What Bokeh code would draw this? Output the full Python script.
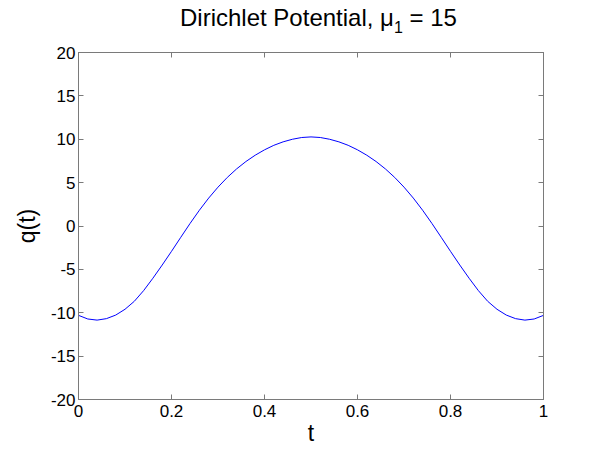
from bokeh.plotting import figure
from bokeh.models import LinearAxis, FixedTicker, Range1d, Div
from bokeh.layouts import column
from bokeh.embed import file_html
from bokeh.resources import INLINE

# ---- data ----
t = [0.00, 0.02, 0.04, 0.06, 0.08, 0.10, 0.12, 0.14, 0.16, 0.18,
     0.20, 0.22, 0.24, 0.26, 0.28, 0.30, 0.32, 0.34, 0.36, 0.38,
     0.40, 0.42, 0.44, 0.46, 0.48, 0.50, 0.52, 0.54, 0.56, 0.58,
     0.60, 0.62, 0.64, 0.66, 0.68, 0.70, 0.72, 0.74, 0.76, 0.78,
     0.80, 0.82, 0.84, 0.86, 0.88, 0.90, 0.92, 0.94, 0.96, 0.98, 1.00]
q = [-10.30, -10.72, -10.85, -10.68, -10.27, -9.60, -8.68, -7.45, -6.02, -4.50,
     -2.92, -1.30, 0.30, 1.82, 3.22, 4.48, 5.60, 6.58, 7.43, 8.16,
     8.78, 9.30, 9.70, 10.00, 10.20, 10.27, 10.20, 10.00, 9.70, 9.30,
     8.78, 8.16, 7.43, 6.58, 5.60, 4.48, 3.22, 1.82, 0.30, -1.30,
     -2.92, -4.50, -6.02, -7.45, -8.68, -9.60, -10.27, -10.68, -10.85, -10.72, -10.30]

x_ticks = [0, 0.2, 0.4, 0.6, 0.8, 1]
x_tick_labels = ["0", "0.2", "0.4", "0.6", "0.8", "1"]
y_ticks = [-20, -15, -10, -5, 0, 5, 10, 15, 20]
y_tick_labels = ["-20", "-15", "-10", "-5", "0", "5", "10", "15", "20"]

title_main = "Dirichlet Potential, \u03bc"
title_sub = "1"
title_rest = " = 15"
x_label = "t"
y_label = "q(t)"

FONT = "Liberation Sans"
AX = "#7a7a7a"

p = figure(frame_width=465, frame_height=347,
           min_border_left=78, min_border_right=49,
           min_border_top=12, min_border_bottom=20,
           x_range=Range1d(0, 1), y_range=Range1d(-20, 20),
           output_backend="svg", toolbar_location=None)
p.grid.visible = False
p.outline_line_color = AX
p.background_fill_color = "white"
p.border_fill_color = "white"

p.line(t, q, line_color="#0000ff", line_width=1)


def style(ax, ticks, labels, show):
    ax.ticker = FixedTicker(ticks=ticks)
    ax.major_label_overrides = {tk: (lb if show else "") for tk, lb in zip(ticks, labels)}
    ax.axis_line_color = AX
    ax.major_tick_line_color = AX
    ax.major_tick_in = 5
    ax.major_tick_out = 0
    ax.minor_tick_line_color = None
    ax.major_label_text_font = FONT
    ax.major_label_text_font_size = "17px"
    ax.major_label_text_color = "black"
    ax.axis_label_text_font = FONT
    ax.axis_label_text_font_size = "23px"
    ax.axis_label_text_font_style = "normal"
    ax.axis_label_text_color = "black"


style(p.xaxis[0], x_ticks, x_tick_labels, True)
p.xaxis[0].major_label_standoff = 5
p.xaxis[0].axis_label = x_label
p.xaxis[0].axis_label_standoff = 0
style(p.yaxis[0], y_ticks, y_tick_labels, True)
p.yaxis[0].major_label_standoff = 3
p.yaxis[0].axis_label = y_label
p.yaxis[0].axis_label_standoff = 8

top = LinearAxis()
style(top, x_ticks, x_tick_labels, False)
top.major_label_standoff = 0
p.add_layout(top, "above")
right = LinearAxis()
style(right, y_ticks, y_tick_labels, False)
right.major_label_standoff = 0
p.add_layout(right, "right")

title_html = (
    '<div style="position:absolute; left:180px; top:6px; white-space:nowrap; '
    "font-family:'Liberation Sans'; font-size:24px; line-height:24px; color:black;\">"
    + title_main
    + '<span style="font-size:16px; position:relative; top:7px;">' + title_sub + "</span>"
    + title_rest + "</div>"
)
title = Div(text=title_html, width=592, height=40, margin=0,
            styles={"position": "relative", "background": "white"})

layout = column(title, p, spacing=0)
open("out.html", "w").write(file_html(layout, INLINE))
